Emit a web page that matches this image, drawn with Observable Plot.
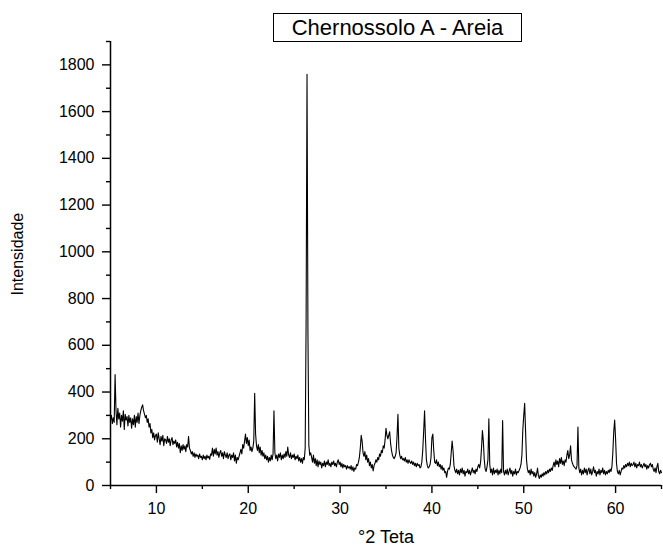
<!DOCTYPE html>
<html><head><meta charset="utf-8">
<script src="https://cdn.jsdelivr.net/npm/d3@7"></script>
<script src="https://cdn.jsdelivr.net/npm/@observablehq/plot@0.6"></script>
<style>
body{margin:0;background:#fff;}
#wrap{position:relative;width:663px;height:552px;font-family:"Liberation Sans",Arial,sans-serif;}
#wrap svg{position:absolute;left:0;top:0;}
#title{position:absolute;left:273px;top:13px;width:249px;height:29px;border:1px solid #000;box-sizing:border-box;font-size:22px;text-align:center;line-height:27px;color:#000;z-index:2;background:#fff;}
</style></head><body>
<div id="wrap"><div id="title">Chernossolo A - Areia</div></div>
<script>
// 2θ sampling: starts at 5.0°, step 0.1°
const startAngle = 5.0, stepAngle = 0.1;
// intensity readings, 5.0–14.9
const seg05 = [280,300,265,290,270,475,320,260,330,285, 310,250,300,275,320,240,305,280,295,255,
  300,270,290,245,285,260,300,250,295,270, 310,265,300,320,335,345,320,305,290,300,
  270,285,250,265,225,240,205,225,195,215, 220,185,225,200,175,210,190,215,170,200,
  195,180,210,185,200,170,195,205,175,190, 180,195,165,185,160,180,140,170,150,175,
  155,170,145,175,165,210,160,150,135,145, 125,140,120,135,125,130,115,135,120,125];
// 15.0–24.9
const seg15 = [110,130,115,125,110,130,118,125,112,135, 130,160,125,155,135,160,130,145,120,140,
  150,125,140,115,145,130,120,140,115,130, 135,110,130,120,140,105,130,95,120,110,
  125,140,155,135,175,160,190,220,180,205, 170,195,150,165,145,160,190,395,220,170,
  150,175,140,165,130,150,125,140,115,130, 110,125,100,120,105,130,110,135,320,140,
  115,130,105,135,120,140,110,130,115,135, 120,145,125,165,130,120,140,115,130,120];
// 25.0–34.9
const seg25 = [135,110,125,115,130,105,120,100,115,95, 120,110,160,700,1760,650,170,130,140,120,
  100,130,95,115,85,110,80,105,90,100, 75,95,85,105,80,100,90,110,85,95,
  80,100,90,105,85,95,80,100,110,90, 100,80,95,75,90,80,85,70,85,75,
  80,70,85,65,80,60,75,70,90,85, 100,120,160,215,190,140,125,145,110,130,
  100,115,85,100,75,90,62,85,95,110, 100,120,110,135,125,150,140,170,160,195];
// 35.0–44.9
const seg35 = [245,215,200,215,230,180,150,130,120,115, 125,140,210,305,160,130,115,125,110,115,
  105,120,100,110,95,110,100,95,105,90, 100,85,95,80,95,85,90,75,80,100,
  150,230,320,200,110,85,75,80,90,120, 205,220,150,100,95,110,85,100,80,90,
  70,85,65,75,55,60,35,60,75,70, 90,140,190,150,85,65,55,70,50,65,
  45,70,55,75,50,65,40,60,55,70, 50,65,45,60,75,55,65,50,70,60];
// 45.0–54.9
const seg45 = [80,90,75,100,160,235,190,110,70,60, 80,110,285,90,55,70,45,75,50,65,
  55,70,45,65,50,70,55,278,60,45, 65,50,70,45,60,75,50,65,40,60,
  50,70,45,60,55,65,75,90,130,240, 300,352,230,110,70,55,65,45,70,50,
  60,40,55,35,50,75,40,30,45,35, 50,40,55,45,60,50,65,55,70,60,
  75,65,85,100,80,110,90,105,80,115, 95,120,90,105,85,110,100,130,150,115];
// 55.0–65.0
const seg55 = [130,170,110,95,85,80,75,70,85,250, 75,55,70,45,65,50,75,55,70,45,
  65,75,50,70,45,60,80,55,65,40, 60,50,70,45,65,55,75,50,65,45,
  60,50,65,55,70,60,80,140,230,280, 200,95,60,50,65,45,60,75,70,85,
  75,90,80,95,85,100,80,95,85,90, 100,80,95,75,90,85,100,80,90,75,
  85,95,80,90,70,85,75,90,95,80, 90,70,60,75,55,80,95,60,50,65,55];

const intensity = [...seg05, ...seg15, ...seg25, ...seg35, ...seg45, ...seg55];
const pattern = intensity.map((v, i) => ({theta: +(startAngle + i * stepAngle).toFixed(2), counts: v}));

const xMajor = [10, 20, 30, 40, 50, 60];
const xMinor = [5, 15, 25, 35, 45, 55, 65];
const yMajor = [0, 200, 400, 600, 800, 1000, 1200, 1400, 1600, 1800];
const yMinor = [100, 300, 500, 700, 900, 1100, 1300, 1500, 1700, 1900];
const xTitle = "°2 Teta", yTitle = "Intensidade";

const chart = Plot.plot({
  width: 663, height: 552,
  marginLeft: 110, marginRight: 2, marginTop: 41, marginBottom: 67,
  x: {domain: [5, 65]},
  y: {domain: [0, 1900]},
  style: {fontFamily: '"Liberation Sans", Arial, sans-serif', fontSize: "16px", color: "#000", background: "transparent"},
  marks: [
    Plot.axisX(xMajor, {tickSize: 8, tickPadding: 9, fontSize: 16, strokeWidth: 1.4, tickFormat: d => String(d), label: null}),
    Plot.axisX(xMinor, {tickSize: 4, strokeWidth: 1.4, tickFormat: () => "", label: null}),
    Plot.axisY(yMajor, {tickSize: 8, tickPadding: 8, fontSize: 16, strokeWidth: 1.4, tickFormat: d => String(d), label: null}),
    Plot.axisY(yMinor, {tickSize: 4, strokeWidth: 1.4, tickFormat: () => "", label: null}),
    Plot.ruleY([0], {stroke: "#000", strokeWidth: 1.5}),
    Plot.ruleX([5], {stroke: "#000", strokeWidth: 1.5}),
    Plot.line(pattern, {x: "theta", y: "counts", stroke: "#000", strokeWidth: 1.1}),
    Plot.text([yTitle], {frameAnchor: "left", rotate: -90, dx: -93, dy: 32, fontSize: 16, fill: "#000"}),
    Plot.text([xTitle], {frameAnchor: "bottom", dy: 57, fontSize: 18, fill: "#000"})
  ]
});
document.getElementById("wrap").append(chart);
</script>
</body></html>
